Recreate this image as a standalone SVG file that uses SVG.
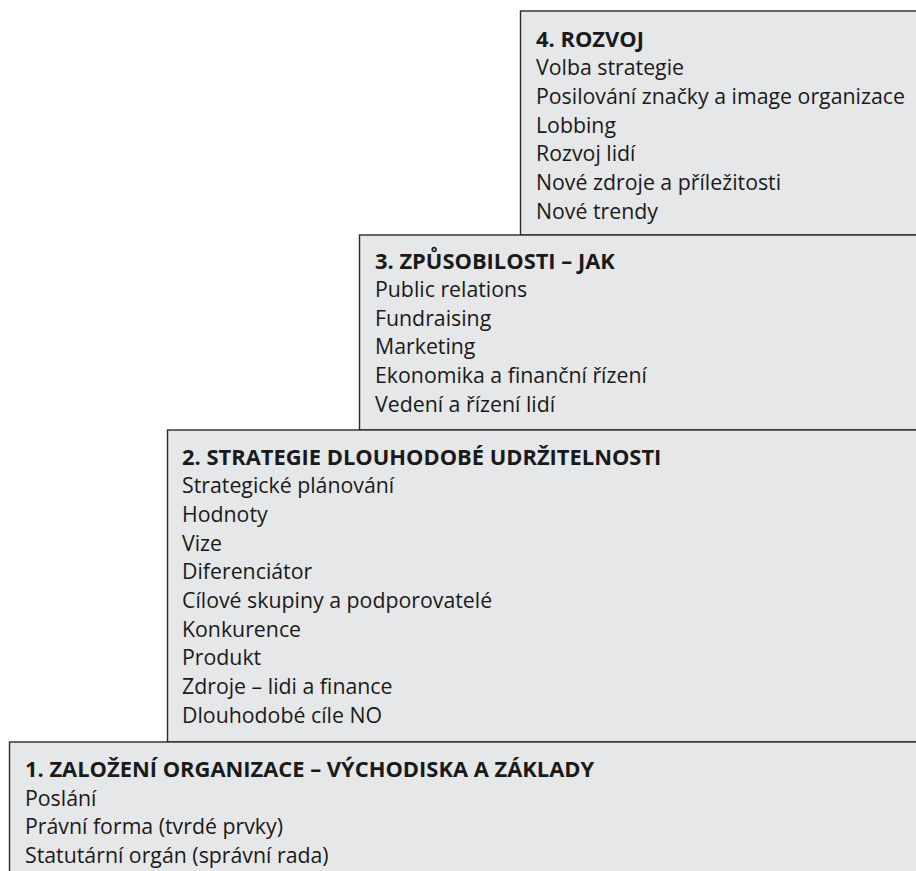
<svg xmlns="http://www.w3.org/2000/svg" width="916" height="871" viewBox="0 0 916 871">
<style>
.box{fill:#e6e7e8;stroke:#2b2b2b;stroke-width:1.4}
text{font-family:"Open Sans","Noto Sans","Liberation Sans",sans-serif;font-size:21.3px;fill:#1a1a1a}
.t{font-weight:bold;font-size:21.9px}
</style>
<rect width="916" height="871" fill="#ffffff"/>
<g id="node4">
<rect class="box" x="520.5" y="11" width="410" height="224"/>
<text class="t" x="536" y="46.5">4. ROZVOJ</text>
<text x="536" y="75.2">Volba strategie</text>
<text x="536" y="103.9">Posilování značky a image organizace</text>
<text x="536" y="132.6">Lobbing</text>
<text x="536" y="161.3">Rozvoj lidí</text>
<text x="536" y="190">Nové zdroje a příležitosti</text>
<text x="536" y="218.7">Nové trendy</text>
</g>
<g id="node3">
<rect class="box" x="359.5" y="235" width="570" height="195"/>
<text class="t" x="375" y="268.5">3. ZPŮSOBILOSTI – JAK</text>
<text x="375" y="297.1">Public relations</text>
<text x="375" y="325.7">Fundraising</text>
<text x="375" y="354.3">Marketing</text>
<text x="375" y="382.9">Ekonomika a finanční řízení</text>
<text x="375" y="411.5">Vedení a řízení lidí</text>
</g>
<g id="node2">
<rect class="box" x="167.5" y="430" width="760" height="312"/>
<text class="t" x="182" y="464.5">2. STRATEGIE DLOUHODOBÉ UDRŽITELNOSTI</text>
<text x="182" y="493.2">Strategické plánování</text>
<text x="182" y="521.9">Hodnoty</text>
<text x="182" y="550.6">Vize</text>
<text x="182" y="579.3">Diferenciátor</text>
<text x="182" y="608">Cílové skupiny a podporovatelé</text>
<text x="182" y="636.7">Konkurence</text>
<text x="182" y="665.4">Produkt</text>
<text x="182" y="694.1">Zdroje – lidi a finance</text>
<text x="182" y="722.8">Dlouhodobé cíle NO</text>
</g>
<g id="node1">
<rect class="box" x="9.5" y="742" width="920" height="140"/>
<text class="t" x="25" y="777">1. ZALOŽENÍ ORGANIZACE – VÝCHODISKA A ZÁKLADY</text>
<text x="25" y="805.7">Poslání</text>
<text x="25" y="834.4">Právní forma (tvrdé prvky)</text>
<text x="25" y="863.1">Statutární orgán (správní rada)</text>
</g>
<g id="connectors"></g>
</svg>
